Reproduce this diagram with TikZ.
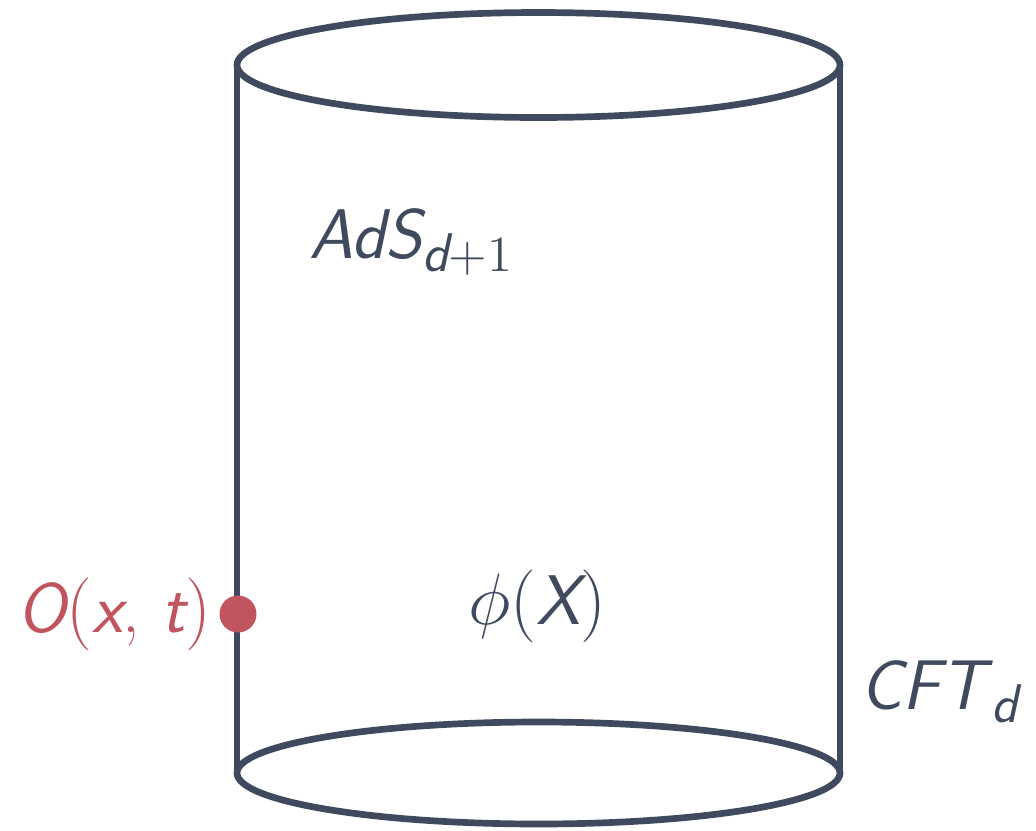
\documentclass[tikz,border=0pt]{standalone}
\usepackage{amsmath}
\usepackage{tikz}
\usetikzlibrary{positioning}
\definecolor{cLine}{HTML}{3F4A5E}
\definecolor{cOp}{HTML}{C1555F}
\newcommand{\sfit}[1]{{\sffamily\itshape #1}}
\newcommand{\lowsub}[1]{\raisebox{-0.19em}{\fontsize{15.5}{18}\selectfont #1}}
\tikzset{
  rim/.style={line width=1.9pt, draw=cLine},
  lbl/.style={text=cLine, inner sep=0pt},
  opdot/.style={circle, fill=cOp, minimum size=0.37cm, inner sep=0pt},
}
\begin{document}
\begin{tikzpicture}[font=\fontsize{20}{24}\selectfont]
  \useasboundingbox (0,0) rectangle (10.36,8.30);
  % cylinder
  \coordinate (top) at (5.385,7.65);
  \coordinate (bot) at (5.385,0.57);
  \draw[rim] (top) ellipse [x radius=3.015cm, y radius=0.525cm];
  \draw[rim] (bot) ellipse [x radius=3.015cm, y radius=0.51cm];
  \draw[rim] (2.37,7.65) -- (2.37,0.57);
  \draw[rim] (8.40,7.65) -- (8.40,0.57);
  % labels
  \node[lbl] (ads) at (4.11,5.88) {\sfit{AdS}\lowsub{\sfit{d}$+1$}};
  \node[lbl] (phi) at (5.37,2.24) {$\phi($\sfit{X}$)$};
  \node[lbl] (cft) at (9.39,1.38) {\sfit{CFT}\kern0.08em\lowsub{\sfit{d}}};
  \node[opdot] (dot) at (2.38,2.16) {};
  \node[lbl, text=cOp, left=0.07cm of dot] (op) {\sfit{O}$($\sfit{x}, \sfit{t}$)$};
\end{tikzpicture}
\end{document}
